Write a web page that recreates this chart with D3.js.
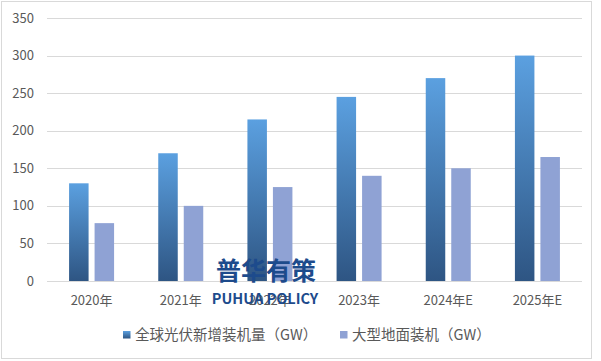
<!DOCTYPE html>
<html><head><meta charset="utf-8">
<script src="https://cdn.jsdelivr.net/npm/d3@7"></script>
<style>body{margin:0;background:#fff}svg{display:block}</style>
</head><body><svg id="c" width="601" height="361"></svg>
<script>
const categories = ["2020年","2021年","2022年","2023年","2024年E","2025年E"];
const seriesNames = ["全球光伏新增装机量（GW）","大型地面装机（GW）"];
const globalNew = [130,170,215,245,270,300];
const groundMounted = [77,100,125,140,150,165];
const yTicks = [0,50,100,150,200,250,300,350];

const svg = d3.select("#c");
const font = "'Microsoft YaHei','Noto Sans CJK SC','DejaVu Sans',sans-serif";
const defs = svg.append("defs");
const g1 = defs.append("linearGradient").attr("id","gb").attr("x1",0).attr("y1",0).attr("x2",0).attr("y2",1);
g1.append("stop").attr("offset","0%").attr("stop-color","#5ba0e0");
g1.append("stop").attr("offset","100%").attr("stop-color","#2e5583");

svg.append("rect").attr("x",1.5).attr("y",1.5).attr("width",590).attr("height",357)
  .attr("fill","#fff").attr("stroke","#d9d9d9");

const x = d3.scaleBand().domain(categories).range([47,582]);
const y = d3.scaleLinear().domain([0,350]).range([281,18]);

svg.append("g").selectAll("line").data(yTicks).join("line")
  .attr("x1",47).attr("x2",582).attr("y1",d=>Math.round(y(d))+0.5).attr("y2",d=>Math.round(y(d))+0.5)
  .attr("stroke","#d9d9d9").attr("stroke-width",1);

svg.append("g").selectAll("text").data(yTicks).join("text")
  .attr("x",34).attr("y",d=>y(d)+4.5).attr("text-anchor","end")
  .attr("font-family",font).attr("font-size",13).attr("fill","#595959").text(d=>d);

const bw = 19.5, gap = 6;
svg.append("g").selectAll("rect").data(globalNew).join("rect")
  .attr("x",(d,i)=>x(categories[i])+x.bandwidth()/2 - bw - gap/2)
  .attr("y",d=>y(d)).attr("width",bw).attr("height",d=>y(0)-y(d)).attr("fill","url(#gb)");
svg.append("g").selectAll("rect").data(groundMounted).join("rect")
  .attr("x",(d,i)=>x(categories[i])+x.bandwidth()/2 + gap/2)
  .attr("y",d=>y(d)).attr("width",bw).attr("height",d=>y(0)-y(d)).attr("fill","#8fa2d4");

svg.append("g").selectAll("text").data(categories).join("text")
  .attr("x",d=>x(d)+x.bandwidth()/2).attr("y",305).attr("text-anchor","middle")
  .attr("font-family",font).attr("font-size",13).attr("fill","#595959").text(d=>d);

// watermark
svg.append("text").attr("x",266).attr("y",280).attr("text-anchor","middle")
  .attr("font-family",font).attr("font-weight","bold").attr("font-size",25)
  .attr("fill","#1d4b8c").text("普华有策");
svg.append("text").attr("x",265).attr("y",304).attr("text-anchor","middle")
  .attr("font-family",font).attr("font-weight","bold").attr("font-size",14.5)
  .attr("fill","#1d4b8c").text("PUHUA POLICY");

// legend
const lg = svg.append("g");
const legX = [123,340];
const legFill = ["url(#gb)","#8fa2d4"];
seriesNames.forEach((s,i)=>{
  lg.append("rect").attr("x",legX[i]).attr("y",331).attr("width",7.5).attr("height",7.5).attr("fill",legFill[i]);
  lg.append("text").attr("x",legX[i]+12).attr("y",340).attr("font-family",font).attr("font-size",14.5)
    .attr("fill","#595959").text(s);
});
</script></body></html>
